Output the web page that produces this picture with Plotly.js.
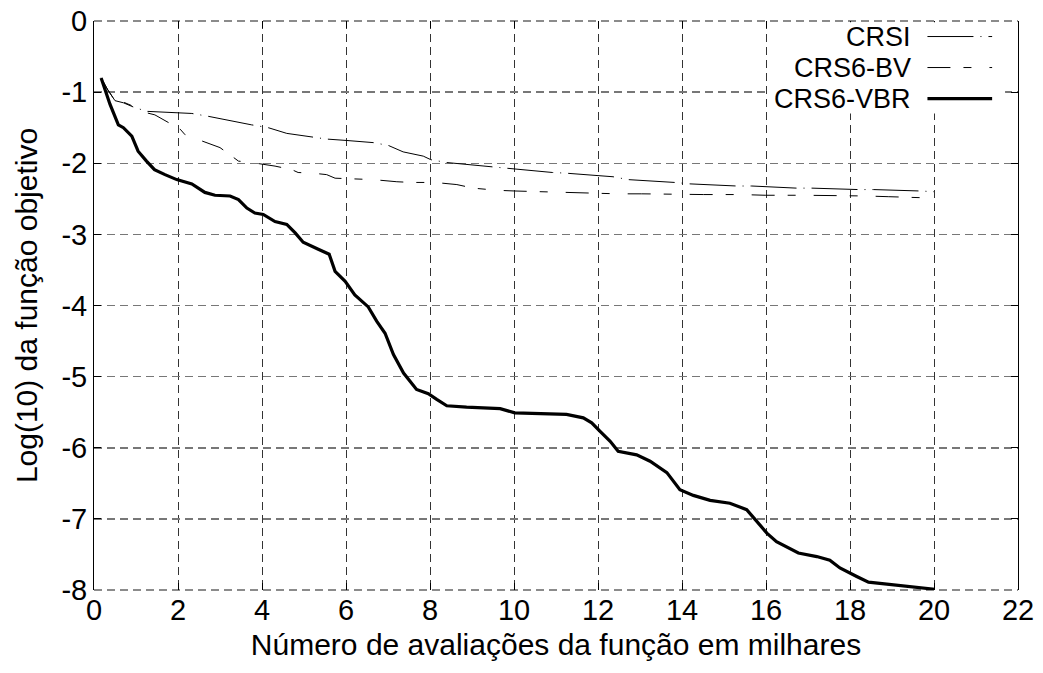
<!DOCTYPE html>
<html>
<head>
<meta charset="utf-8">
<script src="https://cdn.plot.ly/plotly-3.0.1.min.js"></script>
<style>html,body{margin:0;padding:0;background:#fff;}#chart{width:1043px;height:673px;}</style>
</head>
<body>
<div id="chart"></div>
<script>
// ---- data (thousands of function evaluations, log10 of objective) ----
const crsiX = [0.17,0.33,0.50,0.70,0.94,1.25,2.33,2.72,3.75,4.15,4.59,5.18,5.54,6.02,6.65,7.01,7.36,7.84,8.02,8.40,9.19,9.83,10.92,11.25,12.36,12.72,13.83,14.19,15.30,15.66,16.73,17.09,18.20,18.56,19.67,20.00];
const crsiY = [-0.80,-0.97,-1.12,-1.15,-1.21,-1.27,-1.30,-1.34,-1.46,-1.50,-1.58,-1.63,-1.66,-1.68,-1.71,-1.75,-1.84,-1.90,-1.95,-1.99,-2.03,-2.07,-2.13,-2.14,-2.19,-2.23,-2.27,-2.29,-2.32,-2.32,-2.35,-2.35,-2.37,-2.37,-2.39,-2.40];

const bvX = [0.17,0.33,0.50,0.70,0.94,1.25,1.45,1.73,2.05,2.17,2.48,3.00,3.28,3.44,3.75,4.31,4.71,4.86,5.22,5.54,5.74,6.10,6.29,6.65,7.21,7.56,8.12,8.64,9.03,9.19,9.59,10.02,11.02,11.57,12.48,13.04,13.95,14.51,15.42,15.98,16.90,17.45,18.36,18.91,19.83,20.02];
const bvY = [-0.80,-0.97,-1.12,-1.14,-1.20,-1.29,-1.32,-1.41,-1.52,-1.60,-1.67,-1.78,-1.90,-1.97,-1.99,-2.04,-2.09,-2.13,-2.14,-2.16,-2.21,-2.22,-2.23,-2.23,-2.26,-2.27,-2.27,-2.30,-2.35,-2.36,-2.38,-2.39,-2.41,-2.42,-2.43,-2.43,-2.44,-2.44,-2.44,-2.45,-2.45,-2.45,-2.46,-2.47,-2.48,-2.49];

const vbrX = [0.17,0.38,0.58,0.70,0.90,1.05,1.25,1.44,1.69,1.97,2.33,2.64,2.88,3.24,3.44,3.64,3.83,4.03,4.31,4.59,4.79,4.98,5.34,5.60,5.74,5.98,6.21,6.53,6.73,6.93,7.13,7.37,7.68,7.96,8.16,8.40,8.87,9.67,10.02,10.62,11.25,11.65,11.85,12.05,12.29,12.48,12.92,13.24,13.64,13.95,14.27,14.67,15.14,15.54,15.78,16.02,16.25,16.77,17.21,17.52,17.76,18.04,18.16,18.44,19.03,20.02];
const vbrY = [-0.80,-1.17,-1.46,-1.50,-1.62,-1.83,-1.97,-2.09,-2.16,-2.23,-2.29,-2.41,-2.45,-2.46,-2.51,-2.63,-2.70,-2.72,-2.82,-2.86,-2.98,-3.11,-3.21,-3.28,-3.52,-3.66,-3.85,-4.02,-4.22,-4.39,-4.69,-4.95,-5.18,-5.24,-5.32,-5.41,-5.43,-5.45,-5.51,-5.52,-5.53,-5.58,-5.65,-5.77,-5.91,-6.05,-6.10,-6.19,-6.35,-6.59,-6.67,-6.74,-6.78,-6.87,-7.04,-7.20,-7.32,-7.48,-7.53,-7.58,-7.69,-7.78,-7.81,-7.89,-7.93,-7.99];

const seriesNames = ['CRSI', 'CRS6-BV', 'CRS6-VBR'];
const xTickVals = [0,2,4,6,8,10,12,14,16,18,20,22];
const xTickText = ['0','2','4','6','8','10','12','14','16','18','20','22'];
const yTickVals = [0,-1,-2,-3,-4,-5,-6,-7,-8];
const yTickText = ['0','-1','-2','-3','-4','-5','-6','-7','-8'];

// ---- styles ----
const FONT = 'Liberation Sans, Arial, sans-serif';
const styles = [
  {color:'#000', width:1, dash:'46px,7px,1px,7px'},
  {color:'#000', width:1, dash:'23px,13px,8px,18px'},
  {color:'#000', width:3.2, dash:'solid'}
];
const xs = [crsiX, bvX, vbrX];
const ys = [crsiY, bvY, vbrY];

const traces = seriesNames.map((n, i) => ({
  type:'scatter', mode:'lines', name:n, x:xs[i], y:ys[i],
  line:{color:styles[i].color, width:styles[i].width, dash:styles[i].dash},
  showlegend:false, hoverinfo:'skip'
}));

// dashed top and bottom frame edges (as in the reference)
const shapes = [
  {type:'line', xref:'paper', yref:'paper', x0:0, x1:1, y0:1, y1:1, line:{color:'#666', width:1.5, dash:'8px,5px'}, layer:'below'},
  {type:'line', xref:'paper', yref:'paper', x0:0, x1:1, y0:0, y1:0, line:{color:'#666', width:1.5, dash:'8px,5px'}, layer:'below'}
];
// custom key: text on the left, line sample on the right (paper coords)
const rowY = [0.9727, 0.9182, 0.8637];
const rowBgLeft = [0.808, 0.756, 0.731];
const rowBgTop = [0.998, 0.9455, 0.8909];
const rowBgBot = [0.9455, 0.8909, 0.8373];
const annotations = [];
seriesNames.forEach((n, i) => {
  shapes.push({type:'rect', xref:'paper', yref:'paper', x0:rowBgLeft[i], x1:0.986, y0:rowBgBot[i], y1:rowBgTop[i],
    fillcolor:'#fff', line:{width:0}, layer:'above'});
});
seriesNames.forEach((n, i) => {
  shapes.push({type:'line', xref:'paper', yref:'paper', x0:0.902, x1:0.972, y0:rowY[i], y1:rowY[i],
    line:{color:styles[i].color, width:styles[i].width, dash:styles[i].dash}, layer:'above'});
  annotations.push({xref:'paper', yref:'paper', x:0.885, y:rowY[i], xanchor:'right', yanchor:'middle',
    borderpad:0, valign:'middle',
    text:n, showarrow:false, font:{family:FONT, size:27, color:'#000'}});
});

const layout = {
  width:1043, height:673,
  margin:{l:94, r:25, t:21, b:83, pad:0},
  paper_bgcolor:'#fff', plot_bgcolor:'#fff',
  font:{family:FONT, size:29, color:'#000'},
  xaxis:{
    range:[0,22], tickvals:xTickVals, ticktext:xTickText,
    showline:false, mirror:'ticks', ticks:'inside', ticklen:7, tickcolor:'#000',
    showgrid:true, gridcolor:'#333', gridwidth:1, griddash:'8px,5px',
    zeroline:false, tickfont:{family:FONT, size:29},
    title:{text:'Número de avaliações da função em milhares', font:{family:FONT, size:30}, standoff:8}
  },
  yaxis:{
    range:[-8,0], tickvals:yTickVals, ticktext:yTickText,
    showline:true, linecolor:'#000', linewidth:1, mirror:'ticks', ticks:'inside', ticklen:7, tickcolor:'#000',
    showgrid:true, gridcolor:'#777', gridwidth:1.5, griddash:'8px,5px',
    zeroline:false, tickfont:{family:FONT, size:29},
    title:{text:'Log(10) da função objetivo', font:{family:FONT, size:30}, standoff:14}
  },
  shapes:shapes,
  annotations:annotations,
  showlegend:false
};

Plotly.newPlot('chart', traces, layout, {staticPlot:true, displayModeBar:false});
</script>
</body>
</html>
